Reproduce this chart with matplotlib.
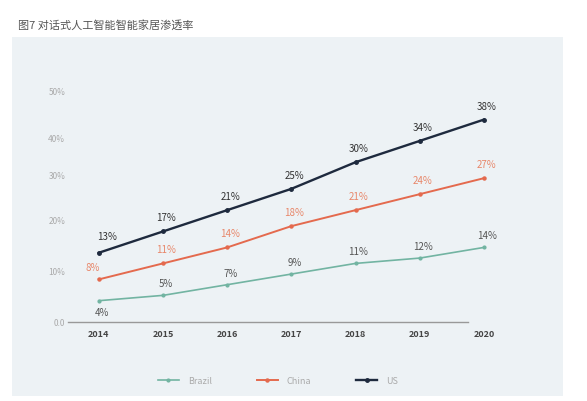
import matplotlib.pyplot as plt
import matplotlib.patches as patches

plt.rcParams['font.family'] = ['Noto Sans CJK SC', 'DejaVu Sans']

# data
years = [2014, 2015, 2016, 2017, 2018, 2019, 2020]
brazil = [4, 5, 7, 9, 11, 12, 14]
china = [8, 11, 14, 18, 21, 24, 27]
us = [13, 17, 21, 25, 30, 34, 38]

# y tick labels as printed, at the heights where they sit in the picture
ytick_pos = [0, 9.4, 19.0, 27.6, 34.4, 43.3]
ytick_labels = ["0.0", "10%", "20%", "30%", "40%", "50%"]

title = "图7 对话式人工智能智能家居渗透率"

W, H = 587, 401
fig = plt.figure(figsize=(W / 100, H / 100), dpi=100)
fig.patch.set_facecolor("white")

# light panel behind the chart
fig.add_artist(patches.Rectangle((12 / W, 5 / H), 551 / W, 359 / H,
                                 transform=fig.transFigure, facecolor="#edf2f5",
                                 edgecolor="none", zorder=0))

fig.text(18 / W, 1 - 25 / H, title, fontsize=8, color="#555555", va="center", ha="left")

ax = fig.add_axes([68 / W, (H - 322) / H, 428.7 / W, 237 / H])
ax.set_facecolor("none")

c_brazil = "#72b4a2"
c_china = "#e46a4e"
c_us = "#1e2a3e"

ax.plot(years, brazil, color=c_brazil, lw=1.2, marker="o", ms=2, label="Brazil")
ax.plot(years, china, color=c_china, lw=1.4, marker="o", ms=2.2, label="China")
ax.plot(years, us, color=c_us, lw=1.7, marker="o", ms=2.5, label="US")

lab_kw = dict(textcoords="offset pixels", ha="center", va="center", fontsize=7)
for i, (x, v) in enumerate(zip(years, brazil)):
    off = (3, -12) if i == 0 else (3, 11)
    ax.annotate(f"{v}%", (x, v), xytext=off, color="#555555", **lab_kw)
for i, (x, v) in enumerate(zip(years, china)):
    off = (-6, 11) if i == 0 else (3, 13)
    ax.annotate(f"{v}%", (x, v), xytext=off, color="#e8876a", **lab_kw)
for i, (x, v) in enumerate(zip(years, us)):
    off = (8, 16) if i == 0 else (3, 13)
    ax.annotate(f"{v}%", (x, v), xytext=off, color="#333333", **lab_kw)

ax.set_xlim(2013.52, 2020.2)
ax.set_ylim(0, 44.5)
ax.set_xticks(years)
ax.set_xticklabels([str(y) for y in years], fontsize=6.5, fontweight="bold", color="#444444")
ax.set_yticks(ytick_pos)
ax.set_yticklabels(ytick_labels, fontsize=6, color="#aaaaaa")
ax.tick_params(axis="x", length=0, pad=6)
ax.tick_params(axis="y", length=0, pad=2)

for s in ["top", "right", "left"]:
    ax.spines[s].set_visible(False)
ax.spines["bottom"].set_color("#999999")
ax.spines["bottom"].set_linewidth(1)
ax.spines["bottom"].set_bounds(2013.52, 2019.75)

leg = fig.legend(loc="center", bbox_to_anchor=(278 / W, 1 - 381 / H), ncol=3,
                 frameon=False, fontsize=6.5, handlelength=2.3, columnspacing=5,
                 handletextpad=1)
for t in leg.get_texts():
    t.set_color("#aaaaaa")

fig.savefig("out.png", dpi=100)
